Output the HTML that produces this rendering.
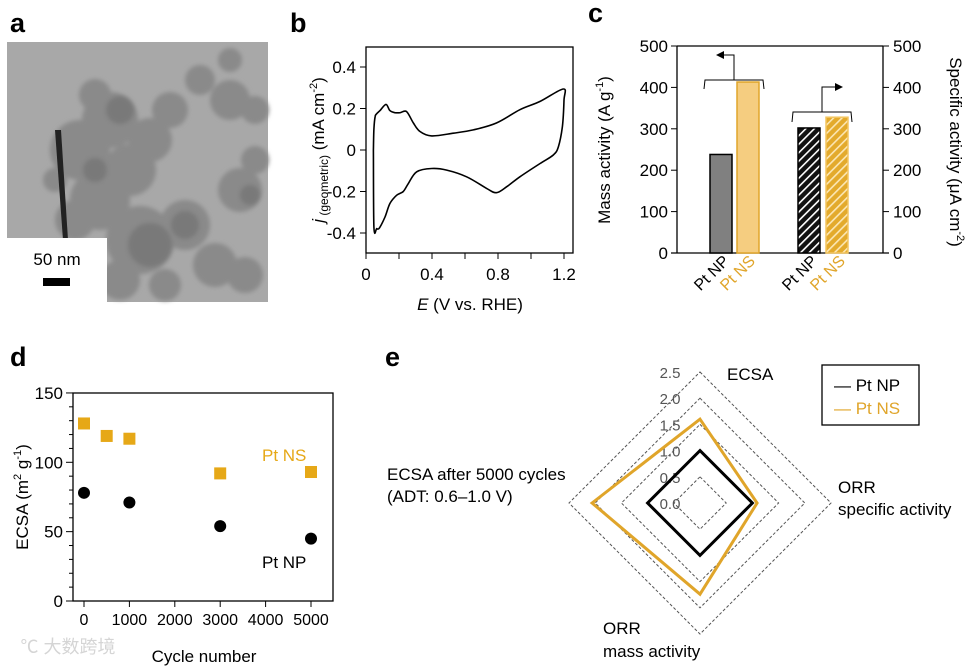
<!DOCTYPE html>
<html><head><meta charset="utf-8"><style>
body{margin:0;background:#fff}
svg{display:block;font-family:"Liberation Sans","Noto Sans CJK SC",sans-serif}
</style></head><body>
<svg id="s" width="976" height="668" viewBox="0 0 976 668" xmlns="http://www.w3.org/2000/svg">
<defs>
<pattern id="hatchK" width="6" height="6" patternUnits="userSpaceOnUse" patternTransform="rotate(45)"><rect width="6" height="6" fill="#111"/><rect x="0" width="1.6" height="6" fill="#fff"/></pattern>
<pattern id="hatchG" width="6" height="6" patternUnits="userSpaceOnUse" patternTransform="rotate(45)"><rect width="6" height="6" fill="#e3aa2c"/><rect x="0" width="1.6" height="6" fill="#fbe6b4"/></pattern>
<filter id="blur"><feGaussianBlur stdDeviation="2"/></filter>
</defs>
<g font-weight="bold" font-size="27" fill="#000">
<text x="10" y="32">a</text>
<text x="290" y="32">b</text>
<text x="588" y="22">c</text>
<text x="10" y="366">d</text>
<text x="385" y="366">e</text>
</g>
<g>
<rect x="7" y="42" width="261" height="260" fill="#a8a8a8"/>
<g fill="#8a8a8a" filter="url(#blur)">
<circle cx="80" cy="150" r="30"/><circle cx="110" cy="120" r="28"/><circle cx="130" cy="170" r="26"/>
<circle cx="100" cy="200" r="30"/><circle cx="150" cy="140" r="22"/><circle cx="170" cy="110" r="18"/>
<circle cx="140" cy="240" r="34"/><circle cx="185" cy="225" r="25"/><circle cx="75" cy="220" r="20"/>
<circle cx="200" cy="80" r="15"/><circle cx="230" cy="100" r="20"/><circle cx="255" cy="110" r="14"/>
<circle cx="240" cy="190" r="22"/><circle cx="255" cy="160" r="14"/><circle cx="215" cy="265" r="22"/>
<circle cx="245" cy="275" r="18"/><circle cx="95" cy="95" r="16"/><circle cx="55" cy="180" r="12"/>
<circle cx="120" cy="280" r="20"/><circle cx="165" cy="285" r="16"/><circle cx="230" cy="60" r="12"/>
</g>
<g fill="#6e6e6e" opacity="0.6" filter="url(#blur)"><circle cx="120" cy="110" r="14"/><circle cx="150" cy="245" r="22"/><circle cx="185" cy="225" r="14"/><circle cx="95" cy="170" r="12"/><circle cx="250" cy="195" r="10"/></g>
<path d="M55 130 L61 130 L68 240 L63 240 Z" fill="#222"/>
</g>
<rect x="7" y="238" width="100" height="64" fill="#fff"/>
<text x="57" y="265" font-size="17" text-anchor="middle">50 nm</text>
<rect x="43" y="278" width="27" height="8" fill="#000"/>
<g id="pb"></g><g id="pc"></g><g id="pd"></g><g id="pe"></g>
<text x="68" y="653" font-size="18" fill="#d5d5d5" text-anchor="middle">℃ 大数跨境</text>
</svg>
<script>
const cvE=[0.045,0.048,0.055,0.065,0.085,0.121,0.145,0.176,0.206,0.246,0.287,0.327,0.398,0.53,0.65,0.79,0.933,1.055,1.196,1.2,1.19,1.166,1.135,1.055,0.933,0.853,0.79,0.731,0.61,0.489,0.398,0.307,0.257,0.226,0.186,0.145,0.115,0.081,0.065,0.048,0.045];
const cvJ=[0.0,0.1,0.16,0.175,0.19,0.22,0.19,0.18,0.18,0.185,0.13,0.089,0.068,0.081,0.097,0.13,0.194,0.234,0.294,0.24,0.113,0.016,-0.024,-0.065,-0.129,-0.177,-0.206,-0.185,-0.129,-0.097,-0.089,-0.105,-0.161,-0.2,-0.218,-0.258,-0.323,-0.376,-0.379,-0.371,0.0];
const bYTicks=[0.4,0.2,0,-0.2,-0.4];
const bXTicks=[0,0.4,0.8,1.2];
const cMass=[238,413];
const cSpec=[302,328];
const cTicks=[0,100,200,300,400,500];
const dNSx=[0,500,1000,3000,5000];
const dNSy=[128,119,117,92,93];
const dNPx=[0,1000,3000,5000];
const dNPy=[78,71,54,45];
const dYTicks=[0,50,100,150];
const dXTicks=[0,1000,2000,3000,4000,5000];
const eNP=[1.0,1.0,1.0,1.0];
const eNS=[1.6,1.09,1.74,2.06];
const eRings=[0.5,1.0,1.5,2.0,2.5];
const eLabels=["2.5","2.0","1.5","1.0","0.5","0.0"];

const NS="http://www.w3.org/2000/svg";
function mk(p,tag,attrs,txt){const e=document.createElementNS(NS,tag);for(const k in attrs)e.setAttribute(k,attrs[k]);if(txt!==undefined)e.textContent=txt;p.appendChild(e);return e;}
const GOLD="#e0a52a";

(function(){
const g=document.getElementById('pb');
const x0=366,x1=573,y0=47,y1=253;
const X=v=>366+v/1.2*198, Y=v=>150-v/0.4*83;
let r=mk(g,'rect',{x:x0,y:y0,width:x1-x0,height:y1-y0,fill:'none',stroke:'#000','stroke-width':1.3});

for(let v=-0.4;v<=0.41;v+=0.2){const t=mk(g,'line',{x1:x0-6,x2:x0,y1:Y(v),y2:Y(v),stroke:'#000'});}
bYTicks.forEach(v=>{const t=mk(g,'text',{x:x0-10,y:Y(v)+6,'font-size':17,'text-anchor':'end'},v===0?'0':v.toFixed(1));});
for(let v=0;v<=1.21;v+=0.2){const t=mk(g,'line',{x1:X(v),x2:X(v),y1:y1,y2:y1+6,stroke:'#000'});}
bXTicks.forEach(v=>{const t=mk(g,'text',{x:X(v),y:y1+27,'font-size':17,'text-anchor':'middle'},v===0?'0':v.toFixed(1));});
const P=cvE.map((e,i)=>[X(e),Y(cvJ[i])]);
let d='M'+P[0][0].toFixed(1)+' '+P[0][1].toFixed(1);
for(let i=0;i<P.length-1;i++){const p0=P[Math.max(0,i-1)],p1=P[i],p2=P[i+1],p3=P[Math.min(P.length-1,i+2)];
 const c1=[p1[0]+(p2[0]-p0[0])/6,p1[1]+(p2[1]-p0[1])/6],c2=[p2[0]-(p3[0]-p1[0])/6,p2[1]-(p3[1]-p1[1])/6];
 d+=`C${c1[0].toFixed(1)} ${c1[1].toFixed(1)} ${c2[0].toFixed(1)} ${c2[1].toFixed(1)} ${p2[0].toFixed(1)} ${p2[1].toFixed(1)}`;}
const p=mk(g,'path',{d:d,fill:'none',stroke:'#000','stroke-width':1.6,'stroke-linejoin':'round'});

const xt=mk(g,'text',{x:470,y:310,'font-size':17,'text-anchor':'middle'});
mk(xt,'tspan',{'font-style':'italic'},'E');mk(xt,'tspan',{},' (V vs. RHE)');
const yt=mk(g,'text',{transform:'translate(324,150) rotate(-90)','font-size':17,'text-anchor':'middle'});
mk(yt,'tspan',{'font-style':'italic'},'j');mk(yt,'tspan',{'font-size':12,dy:4},' (geometric)');mk(yt,'tspan',{dy:-4},' (mA cm');mk(yt,'tspan',{'font-size':11,dy:-7},'-2');mk(yt,'tspan',{dy:7},')');
})();

(function(){
const g=document.getElementById('pc');
const x0=677,x1=883,y0=46,y1=253;
const Y=v=>253-v*0.414;
let a=mk(g,'line',{x1:x0,x2:x0,y1:y0,y2:y1,stroke:'#000','stroke-width':1.3});
a=mk(g,'line',{x1:x1,x2:x1,y1:y0,y2:y1,stroke:'#000','stroke-width':1.3});
a=mk(g,'line',{x1:x0,x2:x1,y1:y0,y2:y0,stroke:'#000','stroke-width':1.3});
a=mk(g,'line',{x1:x0-6,x2:x1+6,y1:y1,y2:y1,stroke:'#000','stroke-width':1.3});
cTicks.forEach(v=>{
 let t=mk(g,'line',{x1:x0-6,x2:x0,y1:Y(v),y2:Y(v),stroke:'#000'});
 t=mk(g,'line',{x1:x1,x2:x1+6,y1:Y(v),y2:Y(v),stroke:'#000'});
 t=mk(g,'text',{x:x0-9,y:Y(v)+6,'font-size':17,'text-anchor':'end'},String(v));
 t=mk(g,'text',{x:x1+10,y:Y(v)+6,'font-size':17},String(v));
});
const bars=[[710,cMass[0],'#808080','#000','bar-mass-pt-np'],[737,cMass[1],'#f5cd80',GOLD,'bar-mass-pt-ns'],[798,cSpec[0],'url(#hatchK)','#000','bar-specific-pt-np'],[826,cSpec[1],'url(#hatchG)','#f3c560','bar-specific-pt-ns']];
bars.forEach(b=>{const r=mk(g,'rect',{x:b[0],y:Y(b[1]),width:22,height:253-Y(b[1]),fill:b[2],stroke:b[3],'stroke-width':1.5});});
let br=mk(g,'path',{d:'M704 89 L705 80 L763 80 L764 89 M734 80 L734 55 L721 55',fill:'none',stroke:'#000','stroke-width':1});
br=mk(g,'path',{d:'M716 51 L724 55 L716 59 Z',transform:'rotate(180 720 55)',fill:'#000'});
br=mk(g,'path',{d:'M792 122 L793 112 L851 112 L852 122 M822 112 L822 87 L836 87',fill:'none',stroke:'#000','stroke-width':1});
br=mk(g,'path',{d:'M835 83 L843 87 L835 91 Z',fill:'#000'});
[[724,'Pt NP','#000'],[750,'Pt NS',GOLD],[812,'Pt NP','#000'],[840,'Pt NS',GOLD]].forEach(l=>{const t=mk(g,'text',{transform:`translate(${l[0]+6},262) rotate(-45)`,'font-size':16,'text-anchor':'end',fill:l[2]},l[1]);});
let yt=mk(g,'text',{transform:'translate(610,150) rotate(-90)','font-size':17,'text-anchor':'middle'});
mk(yt,'tspan',{},'Mass activity (A g');mk(yt,'tspan',{'font-size':11,dy:-7},'-1');mk(yt,'tspan',{dy:7},')');
yt=mk(g,'text',{transform:'translate(950,152) rotate(90)','font-size':17,'text-anchor':'middle'});
mk(yt,'tspan',{},'Specific activity (μA cm');mk(yt,'tspan',{'font-size':11,dy:-7},'-2');mk(yt,'tspan',{dy:7},')');
})();

(function(){
const g=document.getElementById('pd');
const x0=73,x1=333,y0=393,y1=601;
const X=v=>84+v*0.0454, Y=v=>601-v*1.387;
let r=mk(g,'rect',{x:x0,y:y0,width:x1-x0,height:y1-y0,fill:'none',stroke:'#000','stroke-width':1.3});
for(let v=0;v<=150;v+=10){const big=v%50===0;const t=mk(g,'line',{x1:x0-(big?7:4),x2:x0,y1:Y(v),y2:Y(v),stroke:'#000'});}
dYTicks.forEach(v=>{const t=mk(g,'text',{x:x0-10,y:Y(v)+6,'font-size':17,'text-anchor':'end'},String(v));});
dXTicks.forEach(v=>{let t=mk(g,'line',{x1:X(v),x2:X(v),y1:y1,y2:y1+6,stroke:'#000'});
 t=mk(g,'text',{x:X(v),y:y1+24,'font-size':16,'text-anchor':'middle'},String(v));});
dNSx.forEach((v,i)=>{const m=mk(g,'rect',{x:X(v)-6,y:Y(dNSy[i])-6,width:12,height:12,fill:'#e6a817'});});
dNPx.forEach((v,i)=>{const m=mk(g,'circle',{cx:X(v),cy:Y(dNPy[i]),r:6,fill:'#000'});});
let t=mk(g,'text',{x:262,y:461,'font-size':17,fill:'#e6a817'},'Pt NS');
t=mk(g,'text',{x:262,y:568,'font-size':17},'Pt NP');
t=mk(g,'text',{x:204,y:662,'font-size':17,'text-anchor':'middle'},'Cycle number');
const yt=mk(g,'text',{transform:'translate(28,497) rotate(-90)','font-size':17,'text-anchor':'middle'});
mk(yt,'tspan',{},'ECSA (m');mk(yt,'tspan',{'font-size':11,dy:-7},'2');mk(yt,'tspan',{dy:7},' g');mk(yt,'tspan',{'font-size':11,dy:-7},'-1');mk(yt,'tspan',{dy:7},')');
})();

(function(){
const g=document.getElementById('pe');
const cx=700,cy=503,k=52.4;
const pt=(i,v)=>{const a=[[0,-1],[1,0],[0,1],[-1,0]][i];return [cx+a[0]*v*k,cy+a[1]*v*k];};
eRings.forEach(v=>{const d=[0,1,2,3].map(i=>pt(i,v).map(n=>n.toFixed(1)).join(',')).join(' ');const p=mk(g,'polygon',{points:d,fill:'none',stroke:'#555','stroke-width':1,'stroke-dasharray':'3,2'});});
eLabels.forEach((l,i)=>{const t=mk(g,'text',{x:670,y:cy-(2.5-0.5*i)*k+6,'font-size':15,fill:'#555','text-anchor':'middle'},l);});
[[eNP,'#000','pt-np-polygon'],[eNS,'#e0a52a','pt-ns-polygon']].forEach(s=>{const d=s[0].map((v,i)=>pt(i,v).map(n=>n.toFixed(1)).join(',')).join(' ');const p=mk(g,'polygon',{points:d,fill:'none',stroke:s[1],'stroke-width':3});});
const L=[[727,380,'ECSA'],[387,480,'ECSA after 5000 cycles'],[387,502,'(ADT: 0.6–1.0 V)'],[838,493,'ORR'],[838,515,'specific activity'],[603,634,'ORR'],[603,657,'mass activity']];
L.forEach(l=>{const t=mk(g,'text',{x:l[0],y:l[1],'font-size':17},l[2]);});
const lg=mk(g,'rect',{x:822,y:365,width:97,height:60,fill:'#fff',stroke:'#000','stroke-width':1.3});
let t=mk(g,'text',{x:834,y:391,'font-size':17},'— Pt NP');
t=mk(g,'text',{x:834,y:414,'font-size':17,fill:'#e0a52a'},'— Pt NS');
})();
</script>
</body></html>
